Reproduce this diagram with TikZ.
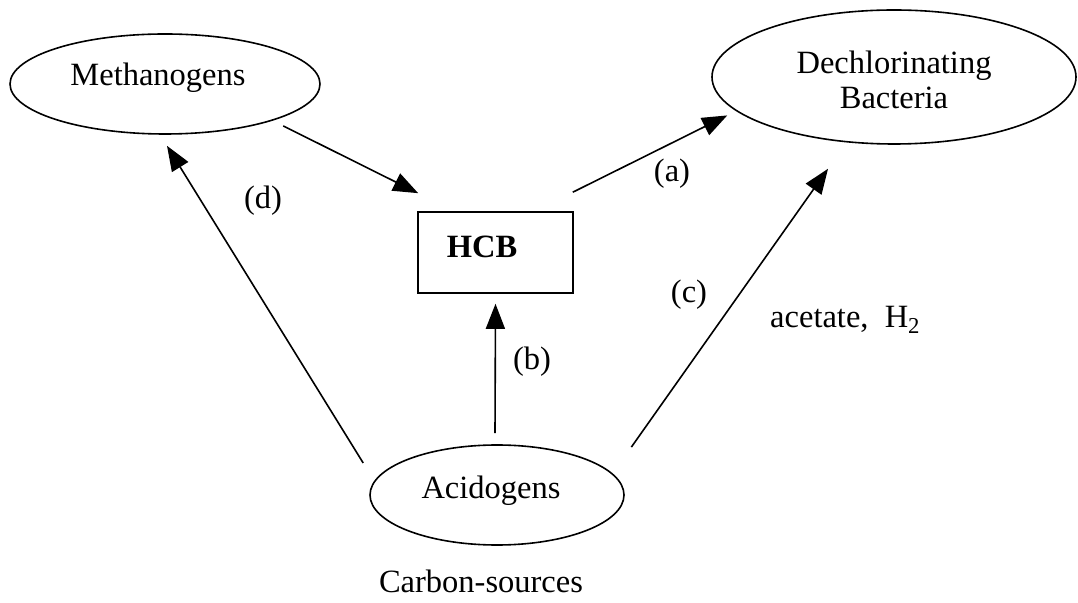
\documentclass[tikz,border=0pt]{standalone}
\usepackage{fontspec}
\setmainfont{Liberation Serif}
\usetikzlibrary{arrows.meta,shapes.geometric}
\begin{document}
\begin{tikzpicture}[x=1pt,y=1pt,
  every node/.style={font=\fontsize{32.5}{39}\selectfont, inner sep=0pt},
  oval/.style={draw, ellipse, line width=1.6pt, inner sep=0pt},
  arr/.style={line width=1.6pt, -{Triangle[length=25pt,width=19pt]}},
  lbl/.style={anchor=center}]
\useasboundingbox (0,0) rectangle (1078,602);
\node[oval, minimum width=310pt, minimum height=100pt] (meth) at (165,518) {};
\node[lbl] (methtxt) at (158,524) {Methanogens};
\node[oval, minimum width=364pt, minimum height=134pt] (dechl) at (894,525) {};
\node[lbl, align=center] (dechltxt) at (894,522) {Dechlorinating\\[-4pt]Bacteria};
\node[draw, line width=1.6pt, minimum width=155pt, minimum height=81pt] (hcb) at (495.5,349.5) {};
\node[lbl, font=\fontsize{32.5}{39}\selectfont\bfseries] (hcbtxt) at (482,355) {HCB};
\node[oval, minimum width=254pt, minimum height=100pt] (acid) at (497,107) {};
\node[lbl] (acidtxt) at (491,111) {Acidogens};
\node[lbl] (carbon) at (481,21) {Carbon-sources};
\node[lbl] (la) at (672,428) {(a)};
\node[lbl] (lb) at (532,240) {(b)};
\node[lbl] (lc) at (689,307) {(c)};
\node[lbl] (ld) at (263,401) {(d)};
\node[anchor=west] (acet) at (770,282) {acetate,\ \ H\textsubscript{2}};
\draw[arr] ([shift={(8,-6)}]meth.south east) -- ([shift={(1,18)}]hcb.north west);
\draw[arr] ([shift={(-1,19)}]hcb.north east) -- ([shift={(-37.5,9.5)}]dechl.south west);
\draw[arr] ([shift={(-2,11)}]acid.north) -- ([shift={(0,-10)}]hcb.south);
\draw[arr] ([shift={(44,12)}]acid.north east) -- ([shift={(-66,-24)}]dechl.south);
\draw[arr] ([shift={(-6,32)}]acid.west) -- ([shift={(2,-11)}]meth.south);
\end{tikzpicture}
\end{document}
